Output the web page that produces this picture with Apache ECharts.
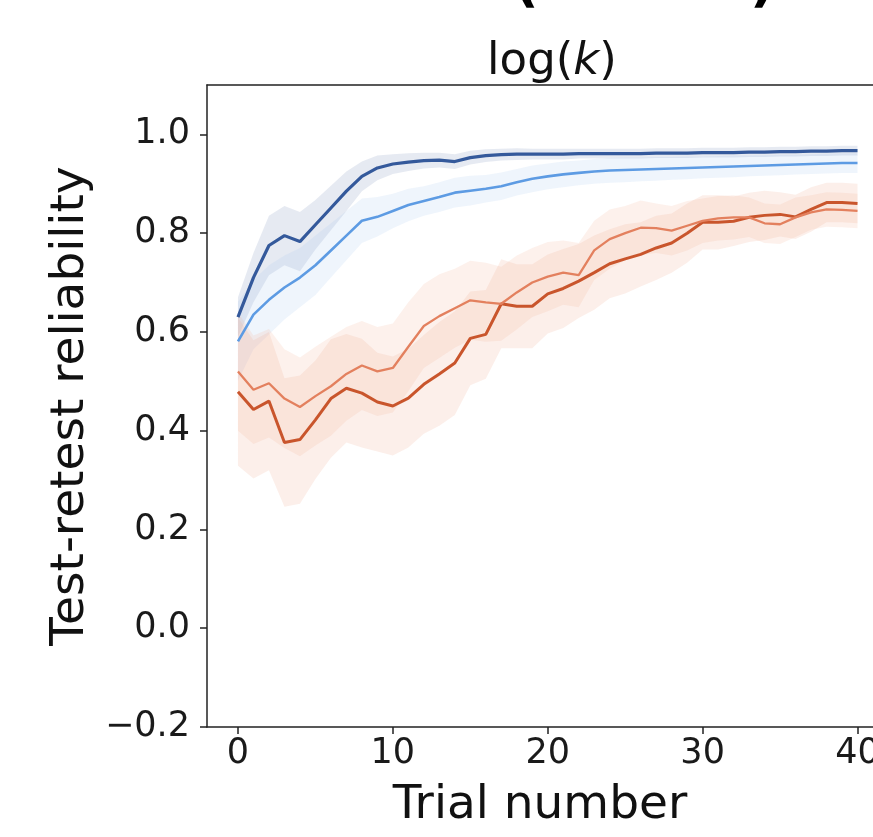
<!DOCTYPE html>
<html>
<head>
<meta charset="utf-8">
<script src="https://cdn.jsdelivr.net/npm/echarts@6/dist/echarts.min.js"></script>
<style>
html,body{margin:0;padding:0;background:#fff;}
#chart{width:873px;height:837px;}
</style>
</head>
<body>
<div id="chart"></div>
<script>
// ---- data ----
const trials = [0,1,2,3,4,5,6,7,8,9,10,11,12,13,14,15,16,17,18,19,20,21,22,23,24,25,26,27,28,29,30,31,32,33,34,35,36,37,38,39,40];
const xTicks = [0,10,20,30,40];
const yTicks = [-0.2,0,0.2,0.4,0.6,0.8,1.0];

const darkBlue = [0.63,0.71,0.775,0.795,0.783,0.817,0.851,0.885,0.915,0.932,
  0.94,0.944,0.947,0.948,0.945,0.953,0.957,0.959,0.96,0.96,
  0.96,0.96,0.961,0.961,0.961,0.961,0.961,0.962,0.962,0.962,
  0.963,0.963,0.963,0.964,0.964,0.965,0.965,0.966,0.966,0.967,0.967];
const darkBlueHW = [0.04,0.05,0.06,0.06,0.06,0.05,0.045,0.04,0.03,0.025,
  0.02,0.018,0.016,0.015,0.015,0.014,0.013,0.012,0.012,0.011,
  0.011,0.011,0.01,0.01,0.01,0.01,0.01,0.01,0.01,0.01,
  0.01,0.01,0.01,0.01,0.01,0.01,0.01,0.01,0.01,0.01,0.01];

const lightBlue = [0.581,0.635,0.665,0.69,0.71,0.735,0.765,0.795,0.825,0.833,
  0.845,0.857,0.865,0.873,0.882,0.886,0.89,0.895,0.903,0.91,
  0.915,0.919,0.922,0.925,0.927,0.928,0.929,0.93,0.931,0.932,
  0.933,0.934,0.935,0.936,0.937,0.938,0.939,0.94,0.941,0.942,0.942];
const lightBlueHW = [0.08,0.07,0.07,0.065,0.06,0.06,0.055,0.05,0.045,0.04,
  0.035,0.033,0.03,0.03,0.03,0.03,0.028,0.028,0.027,0.027,
  0.026,0.026,0.025,0.025,0.025,0.025,0.024,0.024,0.023,0.023,
  0.022,0.022,0.022,0.021,0.021,0.021,0.02,0.02,0.02,0.02,0.02];

const darkOrange = [0.479,0.443,0.46,0.376,0.382,0.422,0.465,0.486,0.476,0.458,
  0.45,0.466,0.494,0.515,0.537,0.587,0.595,0.657,0.652,0.652,
  0.677,0.688,0.703,0.72,0.738,0.748,0.757,0.77,0.78,0.80,
  0.822,0.822,0.824,0.832,0.836,0.838,0.833,0.848,0.862,0.862,0.86];
const darkOrangeHW = [0.15,0.14,0.14,0.13,0.13,0.12,0.12,0.11,0.11,0.1,
  0.1,0.1,0.1,0.105,0.105,0.095,0.09,0.09,0.085,0.085,
  0.08,0.08,0.075,0.075,0.07,0.07,0.065,0.065,0.06,0.06,
  0.055,0.055,0.05,0.05,0.05,0.045,0.045,0.045,0.04,0.04,0.04];

const lightOrange = [0.52,0.483,0.496,0.465,0.448,0.47,0.49,0.515,0.532,0.52,
  0.527,0.57,0.612,0.632,0.648,0.664,0.66,0.657,0.68,0.70,
  0.712,0.72,0.715,0.765,0.788,0.80,0.811,0.81,0.805,0.815,
  0.825,0.83,0.832,0.832,0.82,0.818,0.832,0.842,0.848,0.847,0.845];
const lightOrangeHW = [0.12,0.11,0.11,0.1,0.1,0.1,0.1,0.095,0.09,0.09,
  0.09,0.09,0.085,0.085,0.08,0.08,0.08,0.075,0.075,0.07,
  0.07,0.065,0.065,0.06,0.06,0.055,0.055,0.05,0.05,0.05,
  0.045,0.045,0.045,0.04,0.04,0.04,0.04,0.035,0.035,0.035,0.035];

// ---- build ----
const FONT = 'DejaVu Sans';
const groups = [
  {name:'darkBlue', v:darkBlue, hw:darkBlueHW, line:'#34599b', band:'rgba(130,152,192,0.2)', w:3.2},
  {name:'lightBlue', v:lightBlue, hw:lightBlueHW, line:'#5d9be3', band:'rgba(165,198,238,0.18)', w:2.6},
  {name:'darkOrange', v:darkOrange, hw:darkOrangeHW, line:'#c9552c', band:'rgba(238,165,138,0.18)', w:3.0},
  {name:'lightOrange', v:lightOrange, hw:lightOrangeHW, line:'#e3805e', band:'rgba(242,175,150,0.18)', w:2.3}
];
const series = [];
groups.forEach(g => {
  const rows = trials.map((t,i)=>[t, g.v[i]-g.hw[i], g.v[i]+g.hw[i]]);
  series.push({
    type:'custom', name:g.name+' CI', silent:true, z:1,
    data: rows,
    encode:{x:0, y:[1,2]},
    renderItem:(params, api) => {
      if (params.dataIndex !== 0) return null;
      const upper = rows.map(r => api.coord([r[0], r[2]]));
      const lower = rows.map(r => api.coord([r[0], r[1]])).reverse();
      return {type:'polygon', shape:{points: upper.concat(lower)}, style:{fill:g.band}};
    }
  });
});
groups.forEach(g => {
  series.push({
    type:'line', name:g.name, symbol:'none', z:5,
    lineStyle:{color:g.line, width:g.w}, data: trials.map((t,i)=>[t, g.v[i]])
  });
});

const chart = echarts.init(document.getElementById('chart'), null, {renderer:'canvas'});
chart.setOption({
  animation:false,
  backgroundColor:'#fff',
  title:{
    text:'log({it|k})', left:547, top:35, textAlign:'center',
    textStyle:{fontFamily:FONT, fontSize:45, fontWeight:'normal', color:'#111',
      rich:{it:{fontFamily:FONT, fontSize:45, fontStyle:'italic', color:'#111'}}}
  },
  graphic:[
    {type:'text', left:514, top:-40, style:{text:'(', fontFamily:FONT, fontSize:54, fontWeight:'bold', fill:'#000'}},
    {type:'text', left:750, top:-40, style:{text:')', fontFamily:FONT, fontSize:54, fontWeight:'bold', fill:'#000'}}
  ],
  grid:{left:207, top:85, right:0, height:642, show:false, outerBoundsMode:'none', containLabel:false},
  xAxis:[{
    type:'value', min:-2, max:41,
    name:'Trial number', nameLocation:'middle', nameGap:55,
    nameTextStyle:{fontFamily:FONT, fontSize:47, color:'#111'},
    axisLine:{show:true, onZero:false, lineStyle:{color:'#222', width:1.5}},
    axisTick:{show:true, inside:false, length:7, lineStyle:{color:'#222', width:1.5}, customValues:xTicks},
    axisLabel:{fontFamily:FONT, fontSize:35, color:'#1a1a1a', margin:9, customValues:xTicks, hideOverlap:false},
    splitLine:{show:false}
  },{
    type:'value', min:-2, max:41, position:'top',
    axisLine:{show:true, onZero:false, lineStyle:{color:'#222', width:1.5}},
    axisTick:{show:false}, axisLabel:{show:false}, splitLine:{show:false}
  }],
  yAxis:{
    type:'value', min:-0.2, max:1.1,
    name:'Test-retest reliability', nameLocation:'middle', nameGap:95,
    nameTextStyle:{fontFamily:FONT, fontSize:47, color:'#111'},
    axisLine:{show:true, onZero:false, lineStyle:{color:'#222', width:1.5}},
    axisTick:{show:true, inside:false, length:7, lineStyle:{color:'#222', width:1.5}, customValues:yTicks},
    axisLabel:{fontFamily:FONT, fontSize:35, color:'#1a1a1a', margin:17, customValues:yTicks,
      formatter: v => (v < 0 ? '\u2212' : '') + Math.abs(v).toFixed(1)},
    splitLine:{show:false}
  },
  series: series
});
</script>
</body>
</html>
